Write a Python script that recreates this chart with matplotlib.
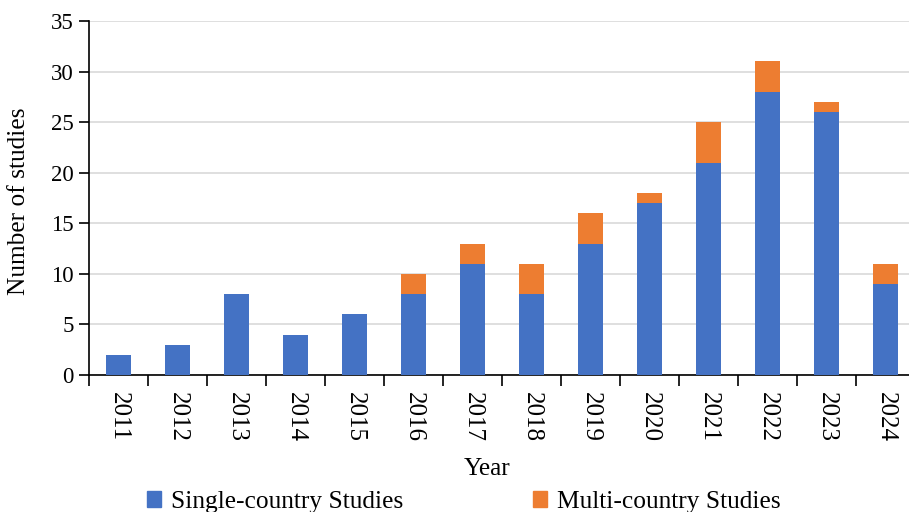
import numpy as np
import matplotlib.pyplot as plt
from matplotlib.patches import Patch

plt.rcParams['font.family'] = ['Liberation Serif', 'DejaVu Serif']

years = ['2011', '2012', '2013', '2014', '2015', '2016', '2017',
         '2018', '2019', '2020', '2021', '2022', '2023', '2024']
single = [2, 3, 8, 4, 6, 8, 11, 8, 13, 17, 21, 28, 26, 9]
multi = [0, 0, 0, 0, 0, 2, 2, 3, 3, 1, 4, 3, 1, 2]

blue = '#4472C4'
orange = '#ED7D31'
fs = 18.3

fig = plt.figure(figsize=(9.09, 5.12), dpi=100)
# plot area runs a little past the right edge of the figure
ax = fig.add_axes([89 / 909, 1 - 375 / 512, 826 / 909, 354 / 512])

x = np.arange(len(years))
ax.bar(x, single, width=0.41, color=blue, zorder=3)
ax.bar(x, multi, width=0.41, bottom=single, color=orange, zorder=3)

ax.set_xlim(-0.5, len(years) - 0.5)
ax.set_ylim(0, 35)
ax.set_yticks(range(0, 36, 5))
ax.yaxis.grid(True, color='#d9d9d9', lw=1.2, zorder=0)

# year labels centred, tick marks between categories
ax.set_xticks(x)
ax.set_xticklabels(years, rotation=270, fontsize=18)
ax.tick_params(axis='x', length=0, pad=12)
ax.set_xticks(np.arange(-0.5, len(years)), minor=True)
ax.tick_params(axis='x', which='minor', length=8, width=1.2, color='black')
ax.tick_params(axis='y', labelsize=16.5, length=7, width=1.2, pad=4)

for s in ['top', 'right']:
    ax.spines[s].set_visible(False)
ax.spines['left'].set_linewidth(1.2)
ax.spines['bottom'].set_linewidth(1.2)

ax.set_ylabel('Number of studies', fontsize=fs)
ax.yaxis.set_label_coords(-0.0714, 0.49)
ax.set_xlabel('Year', fontsize=fs)
ax.xaxis.set_label_coords(0.482, -0.234)

handles = [Patch(color=blue), Patch(color=orange)]
fig.legend(handles, ['Single-country Studies', 'Multi-country Studies'],
           loc='upper left', bbox_to_anchor=(147 / 909, 1 - 491 / 512),
           ncol=2, frameon=False, fontsize=fs, handlelength=0.55,
           handleheight=0.55, handletextpad=0.4, columnspacing=5.1,
           borderpad=0, borderaxespad=0)

fig.savefig('out.png', dpi=100)
